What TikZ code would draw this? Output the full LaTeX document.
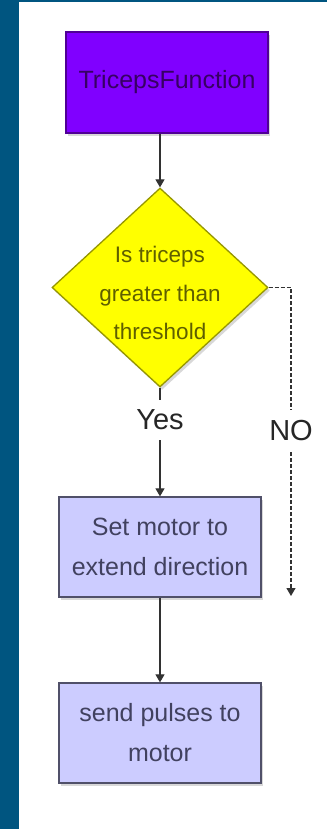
\documentclass[tikz,border=0pt]{standalone}
\usepackage{fontspec}
\setmainfont{Liberation Sans}
\usetikzlibrary{shapes.geometric,arrows.meta,shadows}
\definecolor{bluebg}{RGB}{0,85,128}
\definecolor{purplefill}{RGB}{128,0,255}
\definecolor{purpleline}{RGB}{80,0,150}
\definecolor{purpletext}{RGB}{55,0,100}
\definecolor{yel}{RGB}{255,255,0}
\definecolor{yelline}{RGB}{150,150,0}
\definecolor{yeltext}{RGB}{95,95,0}
\definecolor{lav}{RGB}{204,204,255}
\definecolor{lavline}{RGB}{80,80,105}
\definecolor{lavtext}{RGB}{65,65,95}
\definecolor{conncol}{RGB}{50,50,50}
\begin{document}
\begin{tikzpicture}[x=1pt,y=-1pt,
  shadowed/.style={drop shadow={shadow xshift=2pt,shadow yshift=-3pt,opacity=0.3}},
  procbox/.style={draw=lavline, line width=1.3pt, fill=lav, text=lavtext,
    minimum width=202pt, minimum height=100pt, inner sep=0pt, align=center,
    font=\fontsize{25pt}{40pt}\selectfont, shadowed},
  startbox/.style={procbox, draw=purpleline, fill=purplefill, text=purpletext,
    minimum height=101pt},
  decision/.style={diamond, draw=yelline, line width=1.3pt, fill=yel,
    minimum width=216pt, minimum height=199pt, inner sep=0pt, shadowed},
  dectext/.style={text=yeltext, align=center, inner sep=0pt,
    font=\fontsize{22.5pt}{38.5pt}\selectfont},
  lbl/.style={text=black!85, inner sep=0pt, font=\fontsize{29pt}{34pt}\selectfont},
  connline/.style={draw=conncol, line width=1.2pt},
  conn/.style={connline, -{Triangle[length=8pt,width=9pt]}},
  noline/.style={connline, dash pattern=on 4pt off 2pt},
]
\useasboundingbox (0,0) rectangle (327,829);
\fill[white] (0,0) rectangle (327,829);
\fill[bluebg] (0,0) rectangle (19,829);
\fill[bluebg] (0,0) rectangle (327,2.5);

\node[startbox] (box1) at (167,82.5) {TricepsFunction};
\node[decision] (dia) at (160,287.5) {};
\node[dectext] (diatext) at (160,293) {Is triceps\\greater than\\threshold};
\node[lbl, minimum height=40pt] (yes) at (160,420) {Yes};
\node[lbl, minimum height=42pt] (no) at (291,431) {NO};
\node[procbox] (box2) at (160,547) {Set motor to\\extend direction};
\node[procbox] (box3) at (160,733) {send pulses to\\motor};
\coordinate (noend) at (291,596);

\draw[conn] (box1.south -| dia.north) -- (dia.north);
\draw[connline] (dia.south) -- (yes.north);
\draw[conn] (yes.south) -- (box2.north);
\draw[conn] (box2.south) -- (box3.north);
\draw[noline] (dia.east) -| (no.north);
\draw[noline, -{Triangle[length=8pt,width=9pt]}] (no.south) -- (noend);
\end{tikzpicture}
\end{document}
